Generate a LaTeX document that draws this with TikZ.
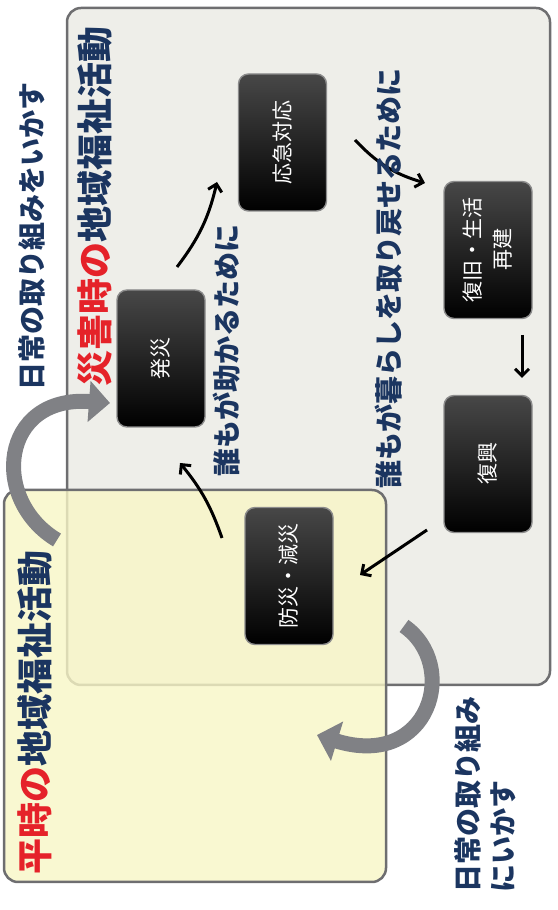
\documentclass[tikz,border=0pt]{standalone}
\usepackage{fontspec}
\usetikzlibrary{arrows.meta,calc}
\newfontfamily\jp{Noto Sans CJK JP}
\definecolor{navy}{HTML}{1B3560}
\definecolor{cred}{HTML}{E52229}
\definecolor{grayfill}{HTML}{EEEEE9}
\definecolor{yellfill}{HTML}{F8F6C6}
\definecolor{edgegray}{HTML}{6E6E70}
\definecolor{bigarrow}{HTML}{808185}
\begin{document}
\begin{tikzpicture}[x=1pt,y=1pt,
  stagebox/.style={rotate=90, rounded corners=10pt, minimum width=137pt, minimum height=88pt,
    top color=black!72, bottom color=black, draw=black!45, line width=1.4pt,
    text=white, font=\jp\fontsize{21}{30}\selectfont, align=center, inner sep=2pt},
  lbl/.style={rotate=90, text=navy, font=\jp\bfseries\fontsize{28}{35}\selectfont, inner sep=0pt},
  ttl/.style={rotate=90, text=navy, font=\jp\bfseries\fontsize{36}{40}\selectfont, inner sep=0pt},
  flow/.style={line width=3pt, -{Straight Barb[length=7pt,width=14pt]}},
  bigarr/.style={line width=15pt, draw=bigarrow, -{Triangle[length=21pt,width=40pt]}},
  panel/.style={draw=edgegray, line width=2.5pt, rounded corners=14pt}
]
\useasboundingbox (0,0) rectangle (557,910);
% containers
\path[panel, fill=grayfill] (67,225) rectangle (550,902);
\path[panel, fill=yellfill, fill opacity=0.8] (4,28) rectangle (386,420);
% big transfer arrows
\draw[bigarr] (57,370) .. controls (-10,410) and (0,515) .. (110,507);
\draw[bigarr] (404,284) .. controls (460,245) and (430,140) .. (317,175);
% stages
\node[stagebox] (hassai) at (161,551.5) {発災};
\node[stagebox] (oukyu) at (282.5,767.5) {応急対応};
\node[stagebox] (fukkyu) at (488,660) {復旧・生活\\再建};
\node[stagebox] (fukkou) at (488,446) {復興};
\node[stagebox] (bousai) at (289,334) {防災・減災};
% flow arrows
\draw[flow] ($(hassai)+(16,91.5)$) to[bend right=12] ($(oukyu)+(-65.5,-39.5)$);
\draw[flow] ($(oukyu)+(72.5,2.5)$) to[bend right=15] ($(fukkyu)+(-63,67)$);
\draw[flow] ($(fukkyu)+(34,-85)$) -- ($(fukkou)+(34,86)$);
\draw[flow] ($(fukkou)+(-61,-66)$) -- ($(bousai)+(71,1)$);
\draw[flow] ($(bousai)+(-67,38)$) to[bend right=10] ($(hassai)+(19,-104.5)$);
% labels
\node[lbl] (t1) at (32,673.5) {日常の取り組みをいかす};
\node[ttl] (t2) at (95,703) {\textcolor{cred}{災害時の}地域福祉活動};
\node[lbl] (t3) at (227,559) {誰もが助かるために};
\node[lbl] (t4) at (389,631.5) {誰もが暮らしを取り戻せるために};
\node[ttl] (t5) at (35,197.5) {\textcolor{cred}{平時の}地域福祉活動};
\node[lbl, anchor=west, align=left] (t6) at (485,17) {日常の取り組み\\にいかす};
\end{tikzpicture}
\end{document}
